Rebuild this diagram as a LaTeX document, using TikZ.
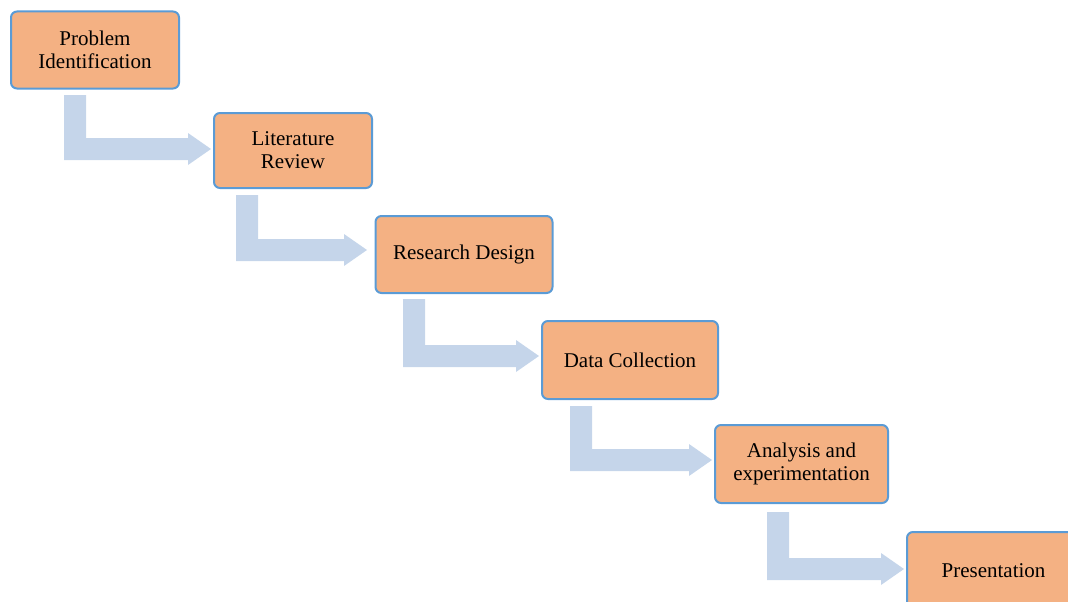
\documentclass[tikz,border=0pt]{standalone}
\usepackage{fontspec}
\setmainfont{Liberation Serif}
\definecolor{boxfill}{RGB}{244,177,131}
\definecolor{boxline}{RGB}{91,155,213}
\definecolor{flowblue}{RGB}{197,213,234}
% bent block arrow: left edge of the stem, top of the stem, bottom of the foot, tip x
\newcommand\bentarrow[4]{%
  \fill[flowblue] (#1,#2) -- ({#1+22},#2) -- ({#1+22},{#3-22}) -- ({#4-23},{#3-22})
    -- ({#4-23},{#3-27}) -- (#4,{#3-11}) -- ({#4-23},{#3+5}) -- ({#4-23},#3)
    -- (#1,#3) -- cycle;}
\tikzset{
  stepbox/.style={draw=boxline, fill=boxfill, line width=2pt, rounded corners=6pt,
    align=center, inner sep=0pt, font=\fontsize{21}{23}\selectfont},
}
\begin{document}
\begin{tikzpicture}[x=1pt,y=-1pt]
\useasboundingbox (0,0) rectangle (1068,602);
\clip (0,0) rectangle (1068,602);

\bentarrow{64}{95}{160}{211}
\bentarrow{236}{195}{261}{367}
\bentarrow{403}{299}{367}{539}
\bentarrow{570}{406}{471}{712}
\bentarrow{767}{512}{580}{904}

\node[stepbox, minimum width=168pt, minimum height=77pt] (s1) at (95,50) {Problem\\Identification};
\node[stepbox, minimum width=158pt, minimum height=75pt] (s2) at (293,150.5) {Literature\\Review};
\node[stepbox, minimum width=177pt, minimum height=77pt] (s3) at (464,254.5) {Research Design};
\node[stepbox, minimum width=176pt, minimum height=78pt] (s4) at (630,360) {Data Collection};
\node[stepbox, minimum width=173pt, minimum height=78pt] (s5) at (801.5,464) {Analysis and\\experimentation};
\node[stepbox, minimum width=173pt, minimum height=78pt] (s6) at (993.5,571) {Presentation};
\end{tikzpicture}
\end{document}
